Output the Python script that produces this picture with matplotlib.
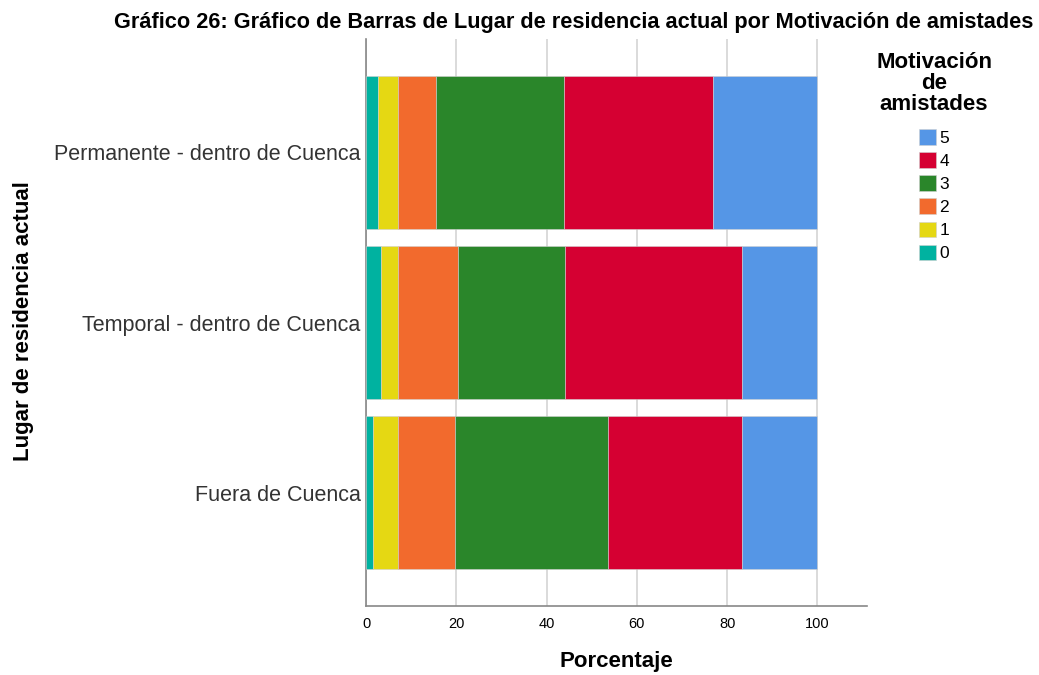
import matplotlib.pyplot as plt
import numpy as np

plt.rcParams['font.family'] = ['Liberation Sans', 'DejaVu Sans']

# Datos (porcentaje por categoría de motivación)
lugares = ["Permanente - dentro de Cuenca", "Temporal - dentro de Cuenca", "Fuera de Cuenca"]
niveles = ["0", "1", "2", "3", "4", "5"]
nivel_0 = [2.7, 3.3, 1.5]
nivel_1 = [4.4, 3.8, 5.5]
nivel_2 = [8.5, 13.2, 12.6]
nivel_3 = [28.3, 23.8, 33.9]
nivel_4 = [33.0, 39.1, 29.8]
nivel_5 = [23.1, 16.8, 16.7]
colores = ['#00B2A0', '#E5D813', '#F26A2D', '#2A862A', '#D50032', '#5596E6']

series = [nivel_0, nivel_1, nivel_2, nivel_3, nivel_4, nivel_5]

fig = plt.figure(figsize=(10.39, 6.75), dpi=100)
ax = fig.add_axes([0.3523, 0.1022, 0.4822, 0.84])

y = np.arange(len(lugares))
left = np.zeros(len(lugares))
handles = []
for vals, col, lab in zip(series, colores, niveles):
    b = ax.barh(y, vals, left=left, height=0.9, color=col,
                edgecolor='#d0d0d0', linewidth=0.4, label=lab, zorder=3)
    handles.append(b)
    left += np.array(vals)

ax.set_ylim(2.667, -0.667)
ax.set_xlim(0, 111)
ax.set_xticks([0, 20, 40, 60, 80, 100])
ax.set_yticks(y)
ax.set_yticklabels(lugares, fontsize=15.5, color='#333333')
ax.tick_params(axis='x', labelsize=10.5, length=0, pad=8)
ax.tick_params(axis='y', length=0, pad=4)
ax.grid(axis='x', color='#d4d4d4', linewidth=1.2, zorder=0)

for s in ['top', 'right']:
    ax.spines[s].set_visible(False)
for s in ['left', 'bottom']:
    ax.spines[s].set_color('#888888')
    ax.spines[s].set_linewidth(1.2)

ax.set_xlabel("Porcentaje", fontsize=16, fontweight='bold', labelpad=14)
fig.text(0.023, 0.524, "Lugar de residencia actual", rotation=90, fontsize=16,
         fontweight='bold', va='center', ha='center')

fig.text(0.552, 0.966, "Gráfico 26: Gráfico de Barras de Lugar de residencia actual por Motivación de amistades",
         fontsize=15.7, fontweight='bold', ha='center', va='center')

leg = fig.legend(handles[::-1], niveles[::-1], loc='upper center',
                 bbox_to_anchor=(0.899, 0.946), frameon=False,
                 title="Motivación\nde\namistades",
                 title_fontproperties={'size': 16, 'weight': 'bold'},
                 fontsize=12.5, handlelength=1.0, handleheight=1.0,
                 handletextpad=0.2, labelspacing=0.37)
leg.get_title().set_multialignment('center')
leg.get_title().set_linespacing(1.0)
leg._legend_box.align = 'center'
leg._legend_box.sep = 10

fig.savefig("out.png", dpi=100)
